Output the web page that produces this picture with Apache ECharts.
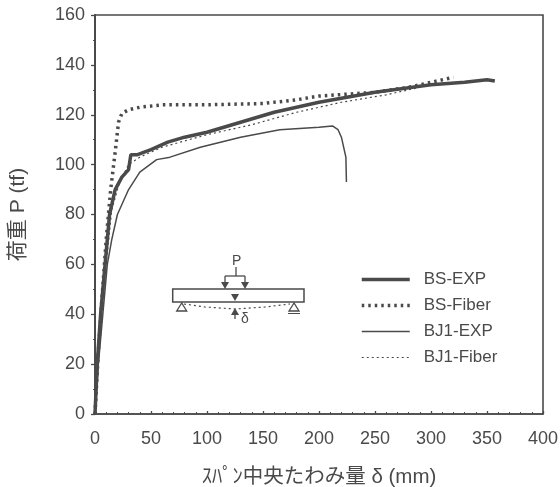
<!DOCTYPE html>
<html><head><meta charset="utf-8">
<script src="https://cdn.jsdelivr.net/npm/echarts@6/dist/echarts.min.js"></script>
<style>html,body{margin:0;padding:0;background:#fff}#c{width:560px;height:487px}</style>
</head><body><div id="c"></div>
<script>
const seriesNames = ['BS-EXP','BS-Fiber','BJ1-EXP','BJ1-Fiber'];
const xTicks = [0,400];
const yTicks = [0,160];
const xTitle = 'ｽﾊﾟﾝ中央たわみ量 δ (mm)';
const yTitle = '荷重 P (tf)';
const bsExp = [[0,0],[2,20],[5,40],[9,60],[13,80],[18,90],[24,95],[30,98],[32,104],[38,104],[50,106],[65,109],[80,111],[100,113],[130,117],[160,121],[200,125],[250,129],[300,132],[330,133],[350,134],[357,133.5]];
const bsFiber = [[0,0],[3,25],[6,45],[10,70],[14,90],[18,105],[21,117],[24,120.5],[30,122],[40,123],[60,124],[100,124],[150,124.5],[180,126],[200,127.5],[250,129],[280,131],[300,133],[320,135]];
const bj1Exp = [[0,0],[3,20],[7,40],[11,60],[15,70],[20,80],[30,90],[40,97],[55,102],[67,103],[94,107],[130,111],[165,114],[200,115],[212,115.5],[217,114],[220,111],[224,103],[224.5,93]];
const bj1Fiber = [[0,0],[4,30],[10,60],[15,82],[22,93],[30,100],[40,103],[60,107],[100,112],[140,116],[180,121],[220,125],[260,128],[300,132]];

const ink = '#4a4a4a';
const font = '"Liberation Sans", Arial, sans-serif';
const titleFont = '"Liberation Sans","Noto Sans CJK JP",sans-serif';
const chart = echarts.init(document.getElementById('c'), null, {renderer:'canvas'});
const mk = (name,data,width,type) => ({
  name, type:'line', data, symbol:'none', smooth:false, z: width>3?4:3,
  lineStyle:{color:ink,width,type}, itemStyle:{color:ink}
});
const arrow = (x,y,dir) => ({type:'polygon',shape:{points:dir>0?[[x-4,y-7],[x+4,y-7],[x,y]]:[[x-4,y+7],[x+4,y+7],[x,y]]},style:{fill:ink}});
const ln = (x1,y1,x2,y2,w,dash) => ({type:'line',shape:{x1,y1,x2,y2},style:{stroke:ink,lineWidth:w||1.3,lineDash:dash}});
const tri = (x) => ({type:'polygon',shape:{points:[[x,303],[x-5,311],[x+5,311]]},style:{fill:'#fff',stroke:ink,lineWidth:1.3}});
const legendWidths = [3.5,3.5,1.5,1.2];
const legendDash = ['solid',[2.5,4],'solid',[2,3]];
chart.setOption({
  animation:false,
  backgroundColor:'#fff',
  grid:{left:95,right:17,top:15,bottom:73,outerBoundsMode:'none',show:true,borderColor:ink,borderWidth:1.6,backgroundColor:'transparent'},
  xAxis:{type:'value',min:xTicks[0],max:xTicks[1],interval:50,
    name:xTitle,nameLocation:'middle',nameGap:53,nameTextStyle:{fontFamily:titleFont,fontSize:20.5,color:ink},
    axisLine:{show:true,onZero:false,lineStyle:{color:ink,width:1.6}},
    axisTick:{show:true,length:3,inside:true,lineStyle:{color:ink,width:1.3}},
    minorTick:{show:true,splitNumber:5,length:2,lineStyle:{color:ink,width:1}},
    splitLine:{show:false},
    axisLabel:{fontFamily:font,fontSize:18,color:ink,margin:16,hideOverlap:false,showMinLabel:true,showMaxLabel:true}},
  yAxis:{type:'value',min:yTicks[0],max:yTicks[1],interval:20,
    name:yTitle,nameLocation:'middle',nameGap:66,nameRotate:90,nameTextStyle:{fontFamily:titleFont,fontSize:21,color:ink},
    axisLine:{show:true,onZero:false,lineStyle:{color:ink,width:2}},
    axisTick:{show:true,length:4,lineStyle:{color:ink,width:1.3}},
    minorTick:{show:true,splitNumber:2,length:2,lineStyle:{color:ink,width:1}},
    splitLine:{show:false},
    axisLabel:{fontFamily:font,fontSize:18,color:ink,margin:10,showMinLabel:true,showMaxLabel:true}},
  legend:{orient:'vertical',left:355,top:266,itemWidth:48,itemHeight:14,itemGap:9,
    data:seriesNames.map((name,i)=>({name,lineStyle:{width:legendWidths[i],type:legendDash[i],color:ink}})),
    itemStyle:{opacity:0},
    textStyle:{fontFamily:font,fontSize:17,color:ink,padding:[0,0,0,9]}},
  series:[
    mk(seriesNames[1],bsFiber,3.5,[2.5,4]),
    mk(seriesNames[3],bj1Fiber,1.2,[2,3]),
    mk(seriesNames[2],bj1Exp,1.5,'solid'),
    mk(seriesNames[0],bsExp,3.5,'solid')
  ],
  graphic:[
    {type:'rect',shape:{x:172.7,y:289,width:131.3,height:13},style:{fill:'#fff',stroke:ink,lineWidth:1.5}},
    ln(236,267,236,276),ln(225,276,245,276),ln(225,276,225,284),ln(245,276,245,284),
    arrow(225,289,1),arrow(245,289,1),arrow(235,301,1),arrow(235,308,-1),ln(235,314,235,319),
    {type:'polyline',shape:{points:[[184,304],[205,307],[235,309],[265,307],[290,304]]},style:{stroke:ink,fill:null,lineWidth:1.2,lineDash:[2,3]}},
    tri(181.7),tri(294),ln(288,313.5,300,313.5,1),
    {type:'text',x:232,y:254,style:{text:'P',font:'14px "Liberation Sans"',fill:ink}},
    {type:'text',x:241,y:312,style:{text:'δ',font:'14px "Liberation Sans"',fill:ink}}
  ]
});
</script></body></html>
